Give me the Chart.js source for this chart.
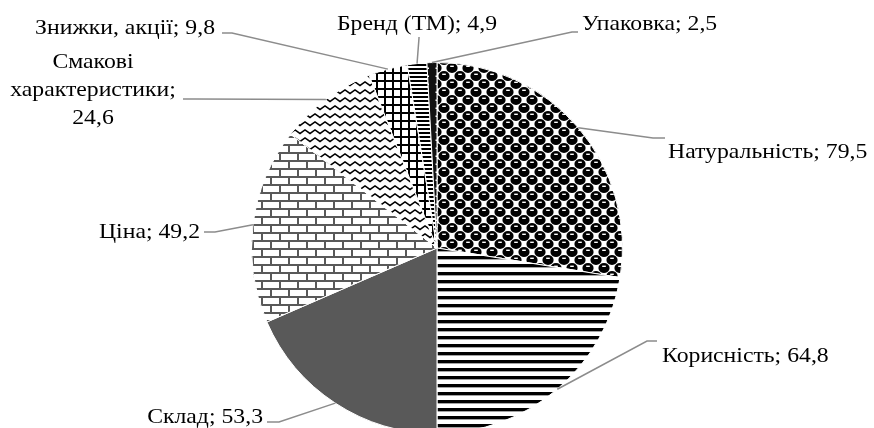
<!DOCTYPE html>
<html lang="uk">
<head>
<meta charset="utf-8">
<title>Фактори вибору</title>
<script src="https://cdn.jsdelivr.net/npm/chart.js@4.4.1/dist/chart.umd.min.js"></script>
<style>
  html, body { margin: 0; padding: 0; background: #fff; overflow: hidden; }
  canvas { display: block; }
</style>
</head>
<body>
<canvas id="c" width="874" height="440"></canvas>
<script>
// Factors named by respondents, %
const categories = ['Натуральність', 'Корисність', 'Склад', 'Ціна', 'Смакові характеристики', 'Знижки, акції', 'Бренд (ТМ)', 'Упаковка'];
const values = [79.5, 64.8, 53.3, 49.2, 24.6, 9.8, 4.9, 2.5];

// ---- monochrome fill patterns ----
function tile(w, h, draw) {
  const c = document.createElement('canvas');
  c.width = w; c.height = h;
  const g = c.getContext('2d');
  draw(g, w, h);
  return document.getElementById('c').getContext('2d').createPattern(c, 'repeat');
}

const patBalls = tile(16, 16, (g, w, h) => {
  g.fillStyle = '#fff'; g.fillRect(0, 0, w, h);
  const ball = (cx, cy) => {
    g.fillStyle = '#000';
    g.beginPath();
    g.ellipse(cx, cy, 5.6, 5, 0, 0, Math.PI * 2);
    g.fill();
    g.fillStyle = '#fff';
    g.fillRect(cx - 1.8, cy - 2.4, 3.6, 1.4);
  };
  [[4, 4], [12, 12], [20, 4], [-4, 12], [4, 20], [12, -4], [-4, -4], [20, 20], [20, -4], [-4, 20], [12, 28], [28, 12]].forEach(p => ball(p[0], p[1]));
});

const patStripes = tile(8, 8, (g, w) => {
  g.fillStyle = '#fff'; g.fillRect(0, 0, w, 8);
  g.fillStyle = '#000'; g.fillRect(0, 0, w, 3);
  g.fillStyle = '#666'; g.fillRect(0, 3, w, 0.6);
});

const patBricks = tile(18, 16, (g, w, h) => {
  g.fillStyle = '#fff'; g.fillRect(0, 0, w, h);
  g.fillStyle = '#595959';
  g.fillRect(0, 0, w, 2);
  g.fillRect(0, 8, w, 2);
  g.fillRect(0, 2, 2, 6);
  g.fillRect(9, 10, 2, 6);
});

const patWaves = tile(10, 8, (g, w, h) => {
  g.fillStyle = '#fff'; g.fillRect(0, 0, w, h);
  g.strokeStyle = '#000'; g.lineWidth = 1.5;
  g.beginPath();
  g.moveTo(-5, 2); g.lineTo(0, 5.5); g.lineTo(5, 2); g.lineTo(10, 5.5); g.lineTo(15, 2);
  g.stroke();
});

const patGrid = tile(8, 8, (g, w, h) => {
  g.fillStyle = '#fff'; g.fillRect(0, 0, w, h);
  g.fillStyle = '#000';
  g.fillRect(0, 0, 2, h);
  g.fillRect(0, 0, w, 2);
});

const patThin = tile(4, 4, (g, w, h) => {
  g.fillStyle = '#fff'; g.fillRect(0, 0, w, h);
  g.fillStyle = '#000'; g.fillRect(0, 0, w, 2);
});

const patDots = tile(8, 8, (g, w, h) => {
  g.fillStyle = '#111'; g.fillRect(0, 0, w, h);
  g.fillStyle = '#fff'; g.fillRect(3.5, 3.5, 1.5, 1.5);
});

const fills = [patBalls, patStripes, '#595959', patBricks, patWaves, patGrid, patThin, patDots];

// Where each outside label sits and where its leader line bends
const labelLayout = [
  { x: 668, y: 158, align: 'left',   from: [665, 138], bend: [653, 138] },
  { x: 662, y: 362, align: 'left',   from: [657, 341], bend: [647, 341] },
  { x: 263, y: 423, align: 'right',  from: [267, 422], bend: [279, 422] },
  { x: 200, y: 238, align: 'right',  from: [204, 232], bend: [215, 232] },
  { x: 93,  y: 68,  align: 'center', from: [183, 99],  bend: [195, 99], wrap: 150, lineHeight: 28 },
  { x: 215, y: 34,  align: 'right',  from: [222, 33],  bend: [232, 33] },
  { x: 417, y: 30,  align: 'center', from: [419, 37],  bend: [419, 38] },
  { x: 582, y: 30,  align: 'left',   from: [578, 32],  bend: [572, 32] }
];

const LABEL_FONT = '21px "Liberation Serif", "Times New Roman", serif';
const LABEL_STRETCH = 1.13; // labels are set in a horizontally widened serif

const fmt = v => String(v).replace('.', ',');

function wrapText(ctx, text, maxW) {
  const words = text.split(' ');
  const lines = [];
  let cur = '';
  words.forEach(w => {
    const t = cur ? cur + ' ' + w : w;
    if (cur && ctx.measureText(t).width > maxW) { lines.push(cur); cur = w; }
    else cur = t;
  });
  if (cur) lines.push(cur);
  return lines;
}

const outsideLabels = {
  id: 'outsideLabels',
  afterDatasetsDraw(chart) {
    const ctx = chart.ctx;
    const meta = chart.getDatasetMeta(0);
    ctx.save();
    ctx.font = LABEL_FONT;
    ctx.fillStyle = '#000';
    ctx.textBaseline = 'alphabetic';
    meta.data.forEach((arc, i) => {
      const L = labelLayout[i];
      const p = arc.getProps(['x', 'y', 'startAngle', 'endAngle', 'outerRadius'], true);
      const mid = (p.startAngle + p.endAngle) / 2;
      const ex = p.x + Math.cos(mid) * p.outerRadius;
      const ey = p.y + Math.sin(mid) * p.outerRadius;
      // leader line
      ctx.strokeStyle = '#8c8c8c';
      ctx.lineWidth = 1.5;
      ctx.beginPath();
      ctx.moveTo(L.from[0], L.from[1]);
      ctx.lineTo(L.bend[0], L.bend[1]);
      ctx.lineTo(ex, ey);
      ctx.stroke();
      // label text
      const text = categories[i] + '; ' + fmt(values[i]);
      const lines = L.wrap ? wrapText(ctx, text, L.wrap) : [text];
      ctx.textAlign = L.align;
      lines.forEach((ln, k) => {
        ctx.save();
        ctx.translate(L.x, L.y + k * (L.lineHeight || 24));
        ctx.scale(LABEL_STRETCH, 1);
        ctx.fillText(ln, 0, 0);
        ctx.restore();
      });
    });
    ctx.restore();
  }
};

new Chart(document.getElementById('c'), {
  type: 'pie',
  data: {
    labels: categories,
    datasets: [{
      data: values,
      backgroundColor: fills,
      borderColor: '#ffffff',
      borderWidth: 1
    }]
  },
  options: {
    responsive: false,
    devicePixelRatio: 1,
    animation: false,
    layout: { padding: { left: 251, right: 251, top: 62, bottom: 6 } },
    plugins: {
      legend: { display: false },
      tooltip: { enabled: false },
      title: { display: false }
    }
  },
  plugins: [outsideLabels]
});
</script>
</body>
</html>
